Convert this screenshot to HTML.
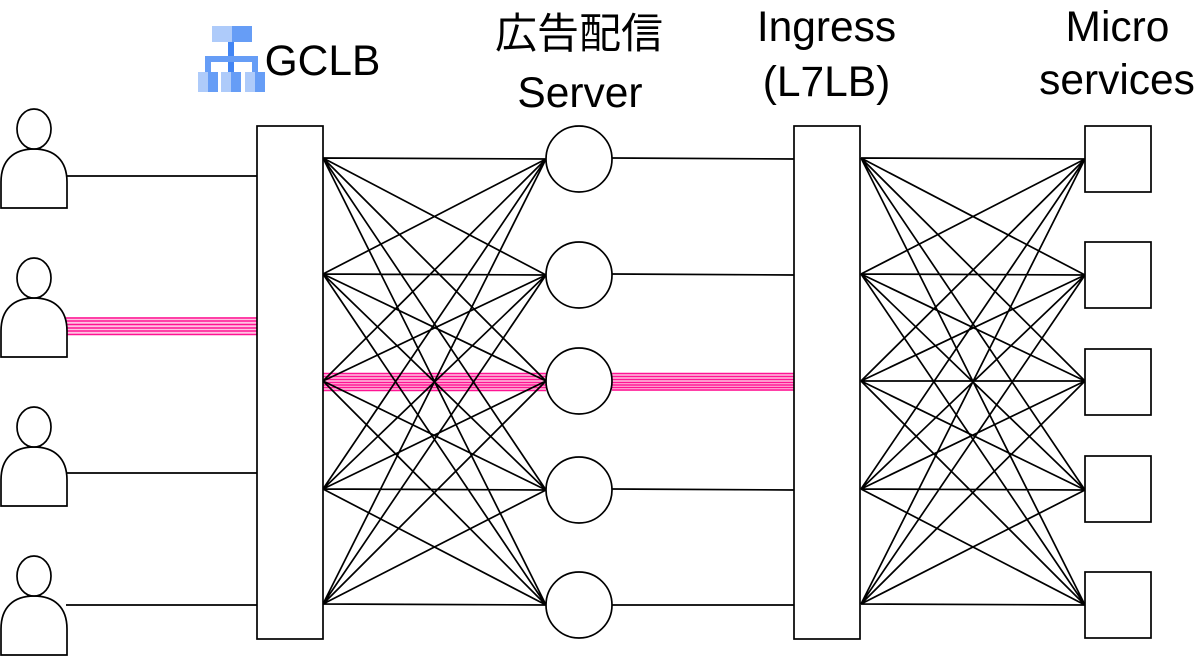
<!DOCTYPE html>
<html><head><meta charset="utf-8">
<style>html,body{margin:0;padding:0;background:#fff}svg{display:block}
text{font-family:"Liberation Sans","Noto Sans CJK JP",sans-serif;font-size:42.5px;fill:#000;text-anchor:middle}</style></head>
<body>
<svg width="1200" height="656" viewBox="0 0 1200 656" xmlns="http://www.w3.org/2000/svg">
<!-- pink -->
<g fill="#ffc4e2"><rect x="66" y="317" width="191" height="18"/><rect x="323" y="373" width="223" height="18"/><rect x="612" y="373" width="182" height="18"/></g>
<g stroke="#ff1493" stroke-width="1.4" fill="none">
<path d="M66 318H257M66 321H257M66 324.500H257M66 328H257M66 331H257M66 334.500H257"/>
<path d="M323 373.500H546M323 376.500H546M323 379.500H546M323 382.500H546M323 385H546M323 387.500H546M323 390.500H546"/>
<path d="M612 373.500H794M612 376.500H794M612 379.500H794M612 382.500H794M612 385H794M612 387.500H794M612 390H794"/>
</g>
<!-- mesh -->
<g stroke="#000" stroke-width="1.7" fill="none">
<path d="M66 176H257M66 473H257M66 605H257"/>
<path d="M323 158L546 159M323 158L546 275M323 158L546 381M323 158L546 490M323 158L546 605
M323 274L546 159M323 274L546 275M323 274L546 381M323 274L546 490M323 274L546 605
M323 381L546 159M323 381L546 275M323 381L546 490M323 381L546 605
M323 489L546 159M323 489L546 275M323 489L546 381M323 489L546 490M323 489L546 605
M323 604L546 159M323 604L546 275M323 604L546 381M323 604L546 490M323 604L546 605"/>
<path d="M612 158L794 159M612 274L794 275"/>
<path d="M612 489L794 490M612 605H794"/>
<path d="M861 158L1085 159M861 158L1085 275M861 158L1085 381M861 158L1085 490M861 158L1085 605
M861 274L1085 159M861 274L1085 275M861 274L1085 381M861 274L1085 490M861 274L1085 605
M861 381L1085 159M861 381L1085 275M861 381L1085 381M861 381L1085 490M861 381L1085 605
M861 489L1085 159M861 489L1085 275M861 489L1085 381M861 489L1085 490M861 489L1085 605
M861 604L1085 159M861 604L1085 275M861 604L1085 381M861 604L1085 490M861 604L1085 605"/>
</g>
<!-- nodes -->
<g fill="#fff" stroke="#000" stroke-width="1.7">
<rect x="257" y="126" width="66" height="513"/>
<rect x="794" y="126" width="66" height="513"/>
<circle cx="579" cy="159" r="33"/><circle cx="579" cy="275" r="33"/><circle cx="579" cy="381" r="33"/><circle cx="579" cy="490" r="33"/><circle cx="579" cy="605" r="33"/>
<rect x="1085" y="126" width="66" height="66"/><rect x="1085" y="242" width="66" height="66"/><rect x="1085" y="349" width="66" height="66"/><rect x="1085" y="456" width="66" height="66"/><rect x="1085" y="572" width="66" height="66"/>
</g>
<!-- users -->
<g fill="#fff" stroke="#000" stroke-width="1.7">
<g><path d="M1 208V182C1 160 14 149 34 149C54 149 67 160 67 182V208Z"/><ellipse cx="34" cy="129" rx="17" ry="20"/></g>
<g><path d="M1 357V331C1 309 14 298 34 298C54 298 67 309 67 331V357Z"/><ellipse cx="34" cy="278" rx="17" ry="20"/></g>
<g><path d="M1 506V480C1 458 14 447 34 447C54 447 67 458 67 480V506Z"/><ellipse cx="34" cy="427" rx="17" ry="20"/></g>
<g><path d="M1 655V629C1 607 14 596 34 596C54 596 67 607 67 629V655Z"/><ellipse cx="34" cy="576" rx="17" ry="20"/></g>
</g>
<!-- icon -->
<g>
<rect x="212" y="26" width="20" height="16" fill="#aecbfa"/><rect x="232" y="26" width="20" height="16" fill="#669df6"/>
<rect x="228" y="42" width="6" height="30" fill="#4285f4"/>
<rect x="205" y="56" width="53" height="6" fill="#669df6"/>
<rect x="205" y="56" width="6" height="16" fill="#669df6"/><rect x="252" y="56" width="6" height="16" fill="#669df6"/>
<rect x="198" y="72" width="10" height="20" fill="#aecbfa"/><rect x="208" y="72" width="10" height="20" fill="#669df6"/>
<rect x="221" y="72" width="10" height="20" fill="#aecbfa"/><rect x="231" y="72" width="10" height="20" fill="#669df6"/>
<rect x="245" y="72" width="10" height="20" fill="#aecbfa"/><rect x="255" y="72" width="10" height="20" fill="#669df6"/>
</g>
<!-- labels -->
<text x="322.500" y="75">GCLB</text>
<text x="579" y="48" style="font-size:42px">広告配信</text>
<text x="580" y="107">Server</text>
<text x="826.500" y="41">Ingress</text>
<text x="826.500" y="96">(L7LB)</text>
<text x="1117.500" y="41">Micro</text>
<text x="1117" y="94">services</text>
</svg>
</body></html>
